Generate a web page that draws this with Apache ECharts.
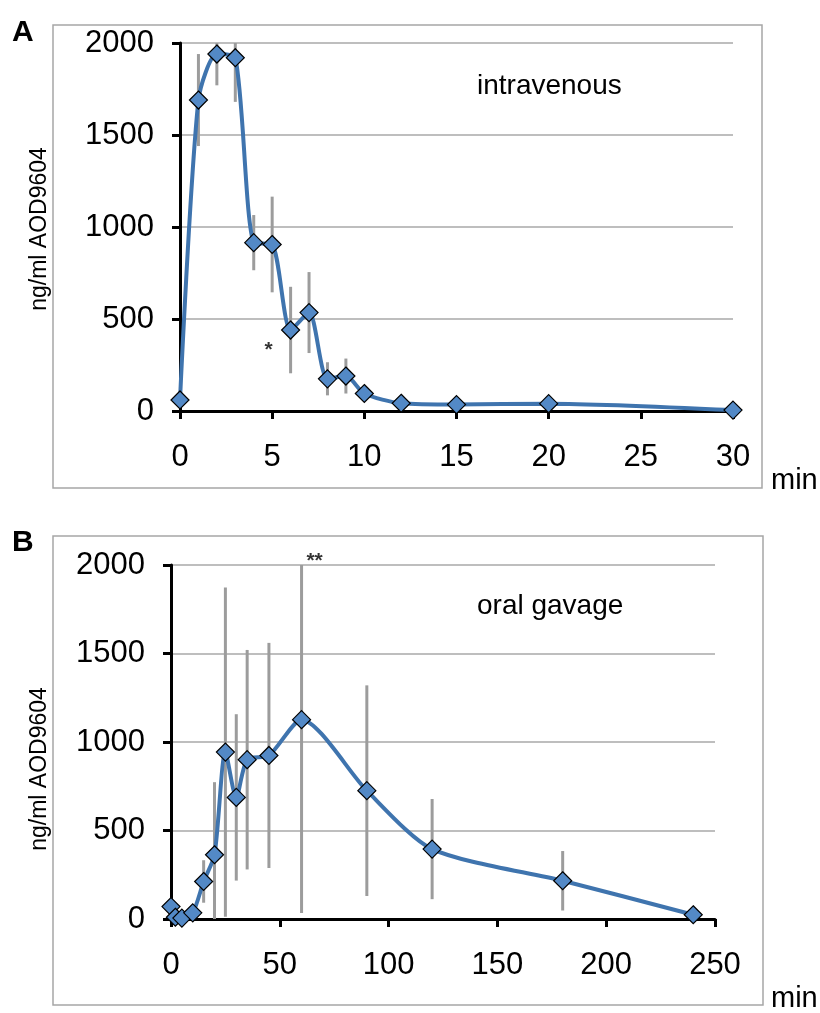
<!DOCTYPE html>
<html>
<head>
<meta charset="utf-8">
<script src="https://cdn.jsdelivr.net/npm/echarts@6/dist/echarts.min.js"></script>
<style>
html,body{margin:0;padding:0;background:#fff;}
#c{width:820px;height:1013px;}
</style>
</head>
<body>
<div id="c"></div>
<script>
// Panel A: intravenous
const timeA = [0, 1, 2, 3, 4, 5, 6, 7, 8, 9, 10, 12, 15, 20, 30];
const concA = [60, 1690, 1940, 1920, 915, 905, 440, 535, 175, 190, 95, 42, 35, 40, 5];
const errA  = [0, 250, 170, 240, 150, 260, 235, 220, 90, 95, 0, 0, 0, 0, 0];
// Panel B: oral gavage
const timeB = [0, 2, 5, 10, 15, 20, 25, 30, 35, 45, 60, 90, 120, 180, 240];
const concB = [70, 10, 5, 35, 212, 363, 943, 687, 900, 924, 1126, 725, 395, 216, 24];
const errB  = [0, 0, 0, 0, 120, 410, 930, 470, 620, 636, 1092, 595, 283, 168, 0];
// Axis ticks
const yTicks = [0, 500, 1000, 1500, 2000];
const xTicksA = [0, 5, 10, 15, 20, 25, 30];
const xTicksB = [0, 50, 100, 150, 200, 250];
// Significance marks
const sigA = [[4.8, 330, '*']];
const sigB = [[66, 2022, '**']];

const FONT = '"Liberation Sans", Arial, sans-serif';
const LINE_COLOR = '#3f74ae';
const MARK_COLOR = '#5389c6';
const ERR_COLOR = '#9c9c9c';
const plain = v => String(v);

function xAxisCfg(idx, ticks) {
  return {
    gridIndex: idx, type: 'value',
    min: ticks[0], max: ticks[ticks.length - 1], interval: ticks[1] - ticks[0],
    axisLine: { show: true, onZero: false, lineStyle: { color: '#000', width: 3 } },
    axisTick: { show: true, length: 8, lineStyle: { color: '#000', width: 3 } },
    axisLabel: { fontSize: 31, color: '#000', margin: 31, fontFamily: FONT, formatter: plain },
    splitLine: { show: false }
  };
}
function yAxisCfg(idx, margin) {
  return {
    gridIndex: idx, type: 'value',
    min: yTicks[0], max: yTicks[yTicks.length - 1], interval: yTicks[1] - yTicks[0],
    axisLine: { show: true, lineStyle: { color: '#000', width: 3 } },
    axisTick: { show: true, length: 8, lineStyle: { color: '#000', width: 3 } },
    axisLabel: { fontSize: 31, color: '#000', margin: margin, fontFamily: FONT, formatter: plain },
    splitLine: { show: true, lineStyle: { color: '#a8a8a8', width: 1.5 } }
  };
}
function errSeries(idx, t, v, e) {
  const data = [];
  t.forEach((x, i) => { if (e[i] > 0) data.push([x, v[i] - e[i], v[i] + e[i]]); });
  return {
    type: 'custom', xAxisIndex: idx, yAxisIndex: idx, clip: true, z: 1,
    data: data, encode: { x: 0, y: [1, 2] },
    renderItem: function (params, api) {
      const p1 = api.coord([api.value(0), api.value(1)]);
      const p2 = api.coord([api.value(0), api.value(2)]);
      return { type: 'line', shape: { x1: p1[0], y1: p1[1], x2: p2[0], y2: p2[1] },
               style: { stroke: ERR_COLOR, lineWidth: 3 } };
    }
  };
}
function lineSeries(idx, t, v) {
  return {
    type: 'line', xAxisIndex: idx, yAxisIndex: idx, z: 3,
    data: t.map((x, i) => [x, v[i]]),
    smooth: 0.25,
    symbol: 'diamond', symbolSize: 18,
    itemStyle: { color: MARK_COLOR, borderColor: '#000', borderWidth: 1.2 },
    lineStyle: { color: LINE_COLOR, width: 4 }
  };
}
function sigSeries(idx, arr) {
  return {
    type: 'scatter', xAxisIndex: idx, yAxisIndex: idx, clip: false, z: 4,
    symbolSize: 0, silent: true,
    data: arr.map(a => ({ value: [a[0], a[1]], label: { formatter: a[2] } })),
    label: { show: true, position: 'inside', color: '#000', fontSize: 21, fontWeight: 'bold', fontFamily: FONT }
  };
}

const chart = echarts.init(document.getElementById('c'), null, { renderer: 'canvas' });
chart.setOption({
  animation: false,
  backgroundColor: '#fff',
  grid: [
    { left: 180, top: 43, width: 553, height: 368 },
    { left: 171, top: 565, width: 544, height: 354 }
  ],
  xAxis: [xAxisCfg(0, xTicksA), xAxisCfg(1, xTicksB)],
  yAxis: [yAxisCfg(0, 26), yAxisCfg(1, 26)],
  series: [
    errSeries(0, timeA, concA, errA),
    lineSeries(0, timeA, concA),
    sigSeries(0, sigA),
    errSeries(1, timeB, concB, errB),
    lineSeries(1, timeB, concB),
    sigSeries(1, sigB)
  ],
  graphic: [
    { type: 'rect', shape: { x: 53, y: 25, width: 709, height: 463 }, style: { fill: 'none', stroke: '#a6a6a6', lineWidth: 1.5 }, z: 0 },
    { type: 'rect', shape: { x: 53, y: 536, width: 710, height: 469 }, style: { fill: 'none', stroke: '#a6a6a6', lineWidth: 1.5 }, z: 0 },
    { type: 'text', x: 12, y: 18, style: { text: 'A', font: 'bold 30px ' + FONT, fill: '#000' } },
    { type: 'text', x: 12, y: 528, style: { text: 'B', font: 'bold 30px ' + FONT, fill: '#000' } },
    { type: 'text', x: 40, y: 229, rotation: Math.PI / 2, style: { text: 'ng/ml AOD9604', font: '23px ' + FONT, fill: '#000', textAlign: 'center', textVerticalAlign: 'middle' } },
    { type: 'text', x: 40, y: 769, rotation: Math.PI / 2, style: { text: 'ng/ml AOD9604', font: '23px ' + FONT, fill: '#000', textAlign: 'center', textVerticalAlign: 'middle' } },
    { type: 'text', x: 477, y: 86, style: { text: 'intravenous', font: '28px ' + FONT, fill: '#000', textVerticalAlign: 'middle' } },
    { type: 'text', x: 477, y: 606, style: { text: 'oral gavage', font: '28px ' + FONT, fill: '#000', textVerticalAlign: 'middle' } },
    { type: 'text', x: 771, y: 481, style: { text: 'min', font: '29px ' + FONT, fill: '#000', textVerticalAlign: 'middle' } },
    { type: 'text', x: 771, y: 999, style: { text: 'min', font: '29px ' + FONT, fill: '#000', textVerticalAlign: 'middle' } }
  ]
});
</script>
</body>
</html>
